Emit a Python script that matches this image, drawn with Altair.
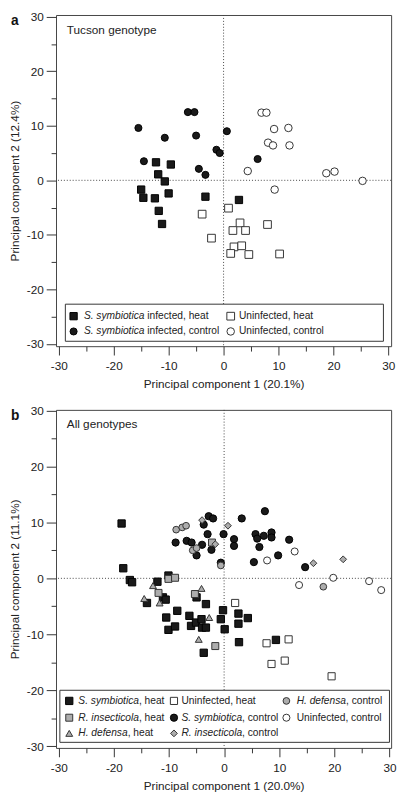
import altair as alt
import pandas as pd

FONT = "Liberation Sans"

# ---------------- Panel a (Tucson genotype) ----------------
a_sym_heat_x = [-12.3, -9.6, -11.9, -10.7, -15.0, -14.6, -12.5, -10.0, -3.3, -11.8, -11.2, 2.8]
a_sym_heat_y = [3.3, 2.9, 1.1, -0.2, -1.7, -3.2, -3.3, -2.4, -3.0, -5.6, -8.0, -3.6]
a_sym_ctrl_x = [-15.5, -10.7, -6.5, -5.3, -5.0, 0.6, -1.3, -0.7, -14.5, -4.5, -3.3, 6.2]
a_sym_ctrl_y = [9.6, 7.8, 12.5, 12.5, 8.2, 9.0, 5.6, 5.0, 3.5, 2.1, 1.0, 3.9]
a_uninf_heat_x = [-3.9, -2.2, 0.9, 3.0, 1.7, 4.0, 8.0, 1.9, 3.3, 1.3, 4.6, 10.2]
a_uninf_heat_y = [-6.2, -10.6, -5.1, -7.8, -9.2, -9.2, -8.1, -12.2, -12.0, -13.4, -13.6, -13.5]
a_uninf_ctrl_x = [6.9, 7.8, 9.2, 11.8, 8.1, 9.0, 12.0, 4.4, 18.7, 20.2, 25.3, 9.3]
a_uninf_ctrl_y = [12.4, 12.4, 9.4, 9.6, 6.9, 6.4, 6.4, 1.7, 1.3, 1.6, -0.1, -1.7]

# ---------------- Panel b (All genotypes) ----------------
b_sym_heat_x = [-18.6, -18.3, -17.1, -16.7, -12.1, -10.1, -14.0, -11.1, -10.6, -8.5, -10.5, -10.1,
                -8.9, -6.3, -6.0, -5.1, -4.1, -4.0, -3.3, -3.3, -5.0, -0.2, -0.6, 0.1, 2.6, 4.3,
                2.6, 2.7, -3.7, 9.4]
b_sym_heat_y = [9.8, 1.8, -0.3, -0.7, -0.6, 0.5, -4.4, -3.4, -3.8, -5.8, -7.0, -9.2,
                -8.6, -6.7, -8.5, -7.9, -7.3, -8.8, -8.8, -4.6, -3.4, -5.7, -7.3, -9.1, -6.3, -7.1,
                -8.1, -11.4, -13.3, -11.0]
b_sym_ctrl_x = [-8.8, -6.8, -5.9, -5.0, -4.0, -3.0, -3.7, -2.8, -2.0, -2.3, -0.1, 1.8, 1.8,
                3.2, 7.4, 5.7, 6.0, 7.2, 8.6, 8.6, 6.4, 5.4, 9.8, 11.8, 14.7, -0.6]
b_sym_ctrl_y = [6.4, 6.7, 6.4, 4.1, 6.0, 7.9, 9.6, 11.1, 10.7, 5.1, 7.9, 7.0, 5.8,
                10.7, 12.0, 7.9, 7.1, 7.6, 8.2, 7.3, 5.6, 2.9, 4.1, 6.9, 2.0, 2.8]
b_uninf_heat_x = [2.0, 7.7, 11.7, 8.6, 11.0, 19.5]
b_uninf_heat_y = [-4.4, -11.6, -10.9, -15.3, -14.7, -17.5]
b_uninf_ctrl_x = [12.8, 7.8, 13.6, 19.8, 26.3, 28.5]
b_uninf_ctrl_y = [4.8, 3.2, -1.2, 0.1, -0.5, -2.1]
b_rins_heat_x = [-10.1, -8.9, -11.9, -5.3, -1.6, -2.2]
b_rins_heat_y = [-0.1, 0.1, -2.6, -2.8, -12.1, 6.4]
b_hdef_heat_x = [-12.9, -14.5, -11.7, -4.1, -2.7, -4.6]
b_hdef_heat_y = [-1.3, -3.6, -4.4, -1.8, -7.0, -10.9]
b_rins_ctrl_x = [-4.0, 0.7, -1.6, 16.2, 21.6]
b_rins_ctrl_y = [10.4, 9.4, 6.1, 2.7, 3.4]
b_hdef_ctrl_x = [-8.7, -7.6, -6.9, -5.7, -5.0, -0.6, 18.0]
b_hdef_ctrl_y = [8.7, 9.1, 9.4, 5.0, 5.4, 2.3, -1.5]

MAJOR = [-30, -20, -10, 0, 10, 20, 30]
MINOR = [-25, -15, -5, 5, 15, 25]

BLACK, GRAY, WHITE = "#1a1a1a", "#adadad", "#ffffff"
# group -> (shape, fill, stroke)
STYLE = {
    "sym_heat": ("square", BLACK, "#000000"),
    "sym_ctrl": ("circle", BLACK, "#000000"),
    "uninf_heat": ("square", WHITE, "#333333"),
    "uninf_ctrl": ("circle", WHITE, "#333333"),
    "rins_heat": ("square", GRAY, "#333333"),
    "hdef_heat": ("triangle-up", GRAY, "#333333"),
    "rins_ctrl": ("diamond", GRAY, "#333333"),
    "hdef_ctrl": ("circle", GRAY, "#333333"),
}
SHAPE_SIZE = {"square": 62, "circle": 52, "triangle-up": 62, "diamond": 66}

# Arial / Liberation Sans advance widths (per 1000 em) for legend text measuring
AW = {"S": 667, ".": 278, " ": 278, "s": 500, "y": 500, "m": 833, "b": 556, "i": 222,
      "o": 556, "t": 278, "c": 500, "a": 556, "R": 722, "n": 556, "e": 556, "l": 222,
      "H": 722, "d": 556, "f": 278}
LFS = 10.4


def tw(s, fs=LFS):
    return sum(AW[c] for c in s) * fs / 1000.0


def points_df(series):
    rows = []
    for g, xs, ys in series:
        for x, y in zip(xs, ys):
            rows.append({"pc1": x, "pc2": y, "group": g})
    return pd.DataFrame(rows)


def panel(series, legend_rows, box, label, subtitle, xtitle, ytitle, xdom, ydom, mscale, h):
    xs = alt.Scale(domain=xdom, nice=False, zero=False)
    ys = alt.Scale(domain=ydom, nice=False, zero=False)
    lab_expr = "'' + datum.value"
    xax = alt.Axis(values=MAJOR, tickSize=9, labelPadding=6, title=xtitle, titlePadding=7,
                   domain=False, grid=False, labelExpr=lab_expr, orient="bottom")
    yax = alt.Axis(values=MAJOR, tickSize=10, labelPadding=3, title=ytitle, titlePadding=5,
                   domain=False, grid=False, labelExpr=lab_expr, orient="left")
    xminor = alt.Axis(values=MINOR, tickSize=5, labels=False, title=None, domain=False,
                      grid=False, orient="bottom")
    yminor = alt.Axis(values=MINOR, tickSize=5, labels=False, title=None, domain=False,
                      grid=False, orient="left")

    def X(f):
        return alt.X(f, type="quantitative", scale=xs, axis=xax)

    def Y(f):
        return alt.Y(f, type="quantitative", scale=ys, axis=yax)

    zero = pd.DataFrame({"z": [0]})
    vline = alt.Chart(zero).mark_rule(strokeDash=[1, 2], color="#444", strokeWidth=1).encode(
        x=alt.X("z:Q", scale=xs, axis=xminor))
    hline = alt.Chart(zero).mark_rule(strokeDash=[1, 2], color="#444", strokeWidth=1).encode(
        y=alt.Y("z:Q", scale=ys, axis=yminor))
    minor = alt.layer(vline, hline)

    groups = [s[0] for s in series]
    pts = points_df(series)
    leg = pd.DataFrame(legend_rows, columns=["lx", "ly", "group", "italic", "rest", "gap"])
    leg_pts = leg.rename(columns={"lx": "pc1", "ly": "pc2"})[["pc1", "pc2", "group"]]
    allpts = pd.concat([pts, leg_pts], ignore_index=True)

    box_df = pd.DataFrame([box], columns=["x1", "x2", "y1", "y2"])
    box_layer = alt.Chart(box_df).mark_rect(fill="white", stroke="#333", strokeWidth=1).encode(
        x=X("x1"), x2="x2", y=Y("y1"), y2="y2")

    def gscale(i):
        return alt.Scale(domain=groups, range=[STYLE[g][i] for g in groups])

    point_layer = alt.Chart(allpts).mark_point(filled=True, opacity=1, strokeWidth=1).encode(
        x=X("pc1"), y=Y("pc2"),
        shape=alt.Shape("group:N", scale=gscale(0), legend=None),
        fill=alt.Fill("group:N", scale=gscale(1), legend=None),
        stroke=alt.Stroke("group:N", scale=gscale(2), legend=None),
        size=alt.Size("group:N", scale=alt.Scale(
            domain=groups, range=[SHAPE_SIZE[STYLE[g][0]] * mscale for g in groups]), legend=None),
    )

    text_layers = []
    for gap in leg["gap"].unique():
        sub_gap = leg[leg["gap"] == gap]
        it = sub_gap[sub_gap["italic"] != ""]
        if len(it):
            text_layers.append(alt.Chart(it).mark_text(
                align="left", baseline="middle", dx=gap, fontStyle="italic", fontSize=LFS, font=FONT,
                color="#222"
            ).encode(x=X("lx"), y=Y("ly"), text="italic:N"))
        for prefix in sub_gap["italic"].unique():
            sub = sub_gap[sub_gap["italic"] == prefix].copy()
            dx = gap + tw(prefix)
            if sub["rest"].str.startswith(" ").all():
                dx += tw(" ")
                sub["rest"] = sub["rest"].str.lstrip()
            text_layers.append(alt.Chart(sub).mark_text(
                align="left", baseline="middle", dx=dx, fontSize=LFS, font=FONT, color="#222"
            ).encode(x=X("lx"), y=Y("ly"), text="rest:N"))

    lab = alt.Chart(pd.DataFrame({"t": [label]})).mark_text(
        align="left", baseline="middle", fontWeight="bold", fontSize=14, font=FONT, color="#111"
    ).encode(x=alt.value(-46), y=alt.value(6), text="t:N")
    subt = alt.Chart(pd.DataFrame({"t": [subtitle]})).mark_text(
        align="left", baseline="middle", fontSize=12, font=FONT, color="#222"
    ).encode(x=alt.value(11), y=alt.value(15), text="t:N")

    main = alt.layer(box_layer, point_layer, *text_layers, lab, subt)
    return alt.layer(minor, main).resolve_axis(x="independent", y="independent").properties(
        width=342, height=h)


series_a = [
    ("uninf_heat", a_uninf_heat_x, a_uninf_heat_y),
    ("uninf_ctrl", a_uninf_ctrl_x, a_uninf_ctrl_y),
    ("sym_heat", a_sym_heat_x, a_sym_heat_y),
    ("sym_ctrl", a_sym_ctrl_x, a_sym_ctrl_y),
]
legend_a = [
    (-27.3, -24.9, "sym_heat", "S. symbiotica", " infected, heat", 10.5),
    (-27.3, -27.7, "sym_ctrl", "S. symbiotica", " infected, control", 10.5),
    (1.3, -24.9, "uninf_heat", "", "Uninfected, heat", 8.4),
    (1.3, -27.7, "uninf_ctrl", "", "Uninfected, control", 8.4),
]
box_a = (-28.8, 29.1, -22.7, -29.5)

series_b = [
    ("sym_heat", b_sym_heat_x, b_sym_heat_y),
    ("sym_ctrl", b_sym_ctrl_x, b_sym_ctrl_y),
    ("uninf_heat", b_uninf_heat_x, b_uninf_heat_y),
    ("uninf_ctrl", b_uninf_ctrl_x, b_uninf_ctrl_y),
    ("rins_heat", b_rins_heat_x, b_rins_heat_y),
    ("hdef_heat", b_hdef_heat_x, b_hdef_heat_y),
    ("rins_ctrl", b_rins_ctrl_x, b_rins_ctrl_y),
    ("hdef_ctrl", b_hdef_ctrl_x, b_hdef_ctrl_y),
]
legend_b = [
    (-28.1, -21.9, "sym_heat", "S. symbiotica", ", heat", 9.3),
    (-28.1, -24.9, "rins_heat", "R. insecticola", ", heat", 9.3),
    (-28.1, -27.7, "hdef_heat", "H. defensa", ", heat", 9.3),
    (-9.1, -21.9, "uninf_heat", "", "Uninfected, heat", 7.7),
    (-9.1, -24.9, "sym_ctrl", "S. symbiotica", ", control", 7.7),
    (-9.1, -27.7, "rins_ctrl", "R. insecticola", ", control", 7.7),
    (11.3, -21.9, "hdef_ctrl", "H. defensa", ", control", 10.5),
    (11.3, -24.9, "uninf_ctrl", "", "Uninfected, control", 10.5),
]
box_b = (-29.8, 30.0, -20.0, -29.3)

pa = panel(series_a, legend_a, box_a, "a", "Tucson genotype",
           "Principal component 1 (20.1%)", "Principal component 2 (12.4%)",
           [-30.5, 30.5], [-30.4, 30.3], 1.0, 338)
pb = panel(series_b, legend_b, box_b, "b", "All genotypes",
           "Principal component 1 (20.0%)", "Principal component 2 (11.1%)",
           [-30.5, 30.3], [-30.3, 30.1], 0.9, 345)

chart = alt.vconcat(pa, pb, spacing=14).resolve_scale(
    x="independent", y="independent", shape="independent", fill="independent",
    stroke="independent", size="independent"
).properties(
    padding={"left": 0, "top": -6, "right": 0, "bottom": 0}
).configure_view(
    stroke="#444", strokeWidth=1
).configure_axis(
    labelFont=FONT, titleFont=FONT, labelFontSize=12, titleFontSize=12, titleFontWeight="normal",
    labelColor="#222", titleColor="#222", tickColor="#333", tickWidth=1
)

chart.save("out.html", embed_options={"renderer": "svg", "actions": False})
